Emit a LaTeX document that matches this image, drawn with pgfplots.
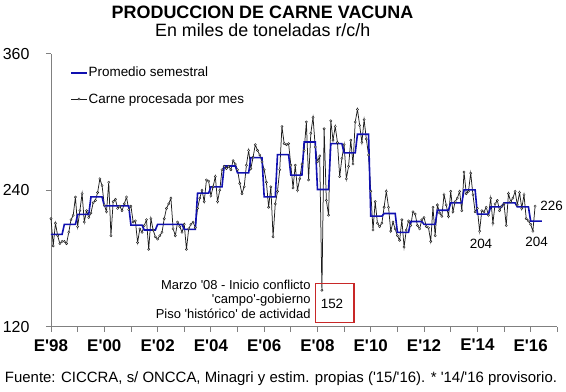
\documentclass[border=0pt]{standalone}
\usepackage{fontspec}
\setmainfont{Liberation Sans}[Ligatures=TeXOff]
\usepackage{pgfplots}
\pgfplotsset{compat=1.18}
\definecolor{avgblue}{RGB}{16,16,176}
\definecolor{boxred}{RGB}{200,40,40}
\definecolor{axgray}{RGB}{128,128,128}
\definecolor{monthly}{RGB}{30,30,30}
\pgfplotsset{
  shortlegend/.style={legend image code/.code={\draw[mark repeat=2,mark phase=2,##1] plot coordinates {(0bp,0bp) (7.8bp,0bp) (15.6bp,0bp)};}},
}
\begin{document}
\begin{tikzpicture}
\path[use as bounding box] (0,0) rectangle (566bp,392bp);
\begin{axis}[
  at={(51bp,65.3bp)}, anchor=south west,
  scale only axis, width=506.3bp, height=273bp,
  xmin=0, xmax=228, ymin=120, ymax=360,
  axis x line*=bottom, axis y line*=left,
  axis line style={-, axgray, line width=0.8bp},
  tick style={axgray, line width=0.8bp},
  tick align=outside,
  major tick length=5bp, minor tick length=5bp,
  xtick={0,24,...,216}, minor xtick={12,36,...,228},
  xticklabels={E'98,E'00,E'02,E'04,E'06,E'08,E'10,E'12,E'14,E'16},
  ytick={120,240,360}, yticklabels={120,240,360},
  xticklabel style={font=\bfseries\fontsize{17}{17}\selectfont, yshift=-4bp},
  yticklabel style={font=\fontsize{16}{16}\selectfont, xshift=-13bp},
  legend style={draw=none, fill=none, at={(0.038,0.955)}, anchor=north west,
    font=\fontsize{13.5}{16}\selectfont, row sep=13bp, inner sep=0pt,
    nodes={inner sep=1bp}},
  legend cell align=left,
  shortlegend,
  reverse legend,
  clip=false,
]
\addplot[monthly, line width=0.75bp, mark=*, mark size=1.1bp,
  mark options={solid, draw=monthly, fill=white, line width=0.45bp}]
coordinates {
(0,215)(1,191)(2,211)(3,200)(4,193)(5,195)(6,195)(7,193)(8,203)(9,214)(10,218)(11,234)
(12,208)(13,222)(14,237)(15,212)(16,222)(17,216)(18,220)(19,229)(20,231)(21,238)(22,250)(23,244)
(24,227)(25,221)(26,247)(27,200)(28,230)(29,232)(30,224)(31,226)(32,222)(33,228)(34,234)(35,223)
(36,226)(37,212)(38,213)(39,194)(40,206)(41,203)(42,209)(43,214)(44,188)(45,215)(46,205)(47,199)
(48,197)(49,200)(50,203)(51,215)(52,224)(53,228)(54,233)(55,206)(56,200)(57,212)(58,208)(59,203)
(60,210)(61,188)(62,206)(63,210)(64,212)(65,207)(66,224)(67,233)(68,240)(69,230)(70,249)(71,248)
(72,235)(73,243)(74,252)(75,230)(76,240)(77,258)(78,261)(79,259)(80,261)(81,258)(82,266)(83,263)
(84,258)(85,246)(86,237)(87,243)(88,262)(89,275)(90,259)(91,269)(92,280)(93,275)(94,271)(95,265)
(96,258)(97,247)(98,225)(99,243)(100,199)(101,228)(102,239)(103,258)(104,296)(105,281)(106,280)(107,281)
(108,262)(109,242)(110,262)(111,240)(112,250)(113,263)(114,275)(115,300)(116,249)(117,290)(118,304)(119,278)
(120,265)(121,270)(122,152)(123,294)(124,231)(125,218)(126,301)(127,284)(128,296)(129,282)(130,252)(131,268)
(132,280)(133,250)(134,261)(135,284)(136,263)(137,300)(138,311)(139,297)(140,282)(141,302)(142,285)(143,271)
(144,239)(145,205)(146,230)(147,211)(148,208)(149,211)(150,225)(151,239)(152,225)(153,204)(154,212)(155,206)
(156,200)(157,196)(158,214)(159,190)(160,205)(161,213)(162,209)(163,221)(164,219)(165,209)(166,206)(167,214)
(168,216)(169,208)(170,207)(171,195)(172,225)(173,200)(174,227)(175,220)(176,217)(177,236)(178,227)(179,217)
(180,239)(181,221)(182,230)(183,233)(184,239)(185,222)(186,256)(187,237)(188,239)(189,255)(190,236)(191,221)
(192,224)(193,204)(194,222)(195,221)(196,225)(197,218)(198,233)(199,211)(200,228)(201,231)(202,222)(203,226)
(204,228)(205,209)(206,237)(207,230)(208,233)(209,239)(210,227)(211,238)(212,224)(213,236)(214,215)(215,213)
(216,210)(217,204)(218,226)
};
\addlegendentry{Carne procesada por mes}
\addplot[avgblue, line width=1.6bp, mark=none]
coordinates {
(0,201.1)(5,201.1)(6,209.9)(11,209.9)
(12,218.7)(17,218.7)(18,234.1)(23,234.1)
(24,226.2)(29,226.2)(30,226.2)(35,226.2)
(36,209.3)(41,209.3)(42,205.0)(47,205.0)
(48,210.0)(53,210.0)(54,210.0)(59,210.0)
(60,205.5)(65,205.5)(66,237.4)(71,237.4)
(72,242.9)(77,242.9)(78,261.3)(83,261.3)
(84,255.2)(89,255.2)(90,268.7)(95,268.7)
(96,234.1)(101,234.1)(102,271.3)(107,271.3)
(108,253.2)(113,253.2)(114,282.4)(119,282.4)
(120,240.6)(125,240.6)(126,280.9)(131,280.9)
(132,272.8)(137,272.8)(138,289.2)(143,289.2)
(144,217.2)(149,217.2)(150,219.5)(155,219.5)
(156,202.9)(161,202.9)(162,212.5)(167,212.5)
(168,210.0)(173,210.0)(174,222.4)(179,222.4)
(180,228.8)(185,228.8)(186,240.3)(191,240.3)
(192,219.0)(197,219.0)(198,225.3)(203,225.3)
(204,228.8)(209,228.8)(210,225.3)(215,225.3)
(216,212.8)(221,212.8)
};
\addlegendentry{Promedio semestral}
\end{axis}
\node[anchor=base, inner sep=0pt, font=\bfseries\fontsize{18}{20}\selectfont] at (262.5bp,373.7bp) {PRODUCCION DE CARNE VACUNA};
\node[anchor=base, inner sep=0pt, font=\fontsize{17.9}{20}\selectfont] at (262.7bp,355bp) {En miles de toneladas r/c/h};
\node[anchor=base, inner sep=0pt, font=\fontsize{15}{16}\selectfont] at (281bp,9.3bp) {Fuente: CICCRA, s/ ONCCA, Minagri y estim. propias ('15/'16). * '14/'16 provisorio.};
\node[anchor=base east, inner sep=0pt, font=\fontsize{13}{15}\selectfont] at (310.7bp,102bp) {Marzo '08 - Inicio conflicto};
\node[anchor=base east, inner sep=0pt, font=\fontsize{13}{15}\selectfont] at (310.7bp,88bp) {'campo'-gobierno};
\node[anchor=base east, inner sep=0pt, font=\fontsize{13}{15}\selectfont] at (310.7bp,73.7bp) {Piso 'histórico' de actividad};
\draw[boxred, line width=1.5bp] (315.7bp,69.7bp) rectangle (354bp,108.7bp);
\node[anchor=base, inner sep=0pt, font=\fontsize{13.5}{15}\selectfont] at (332bp,83.7bp) {152};
\node[anchor=base, inner sep=0pt, font=\fontsize{13.5}{15}\selectfont] at (481bp,143.7bp) {204};
\node[anchor=base, inner sep=0pt, font=\fontsize{13.5}{15}\selectfont] at (536.7bp,145.3bp) {204};
\node[anchor=base, inner sep=0pt, font=\fontsize{13.5}{15}\selectfont] at (551.7bp,181.3bp) {226};
\end{tikzpicture}
\end{document}
